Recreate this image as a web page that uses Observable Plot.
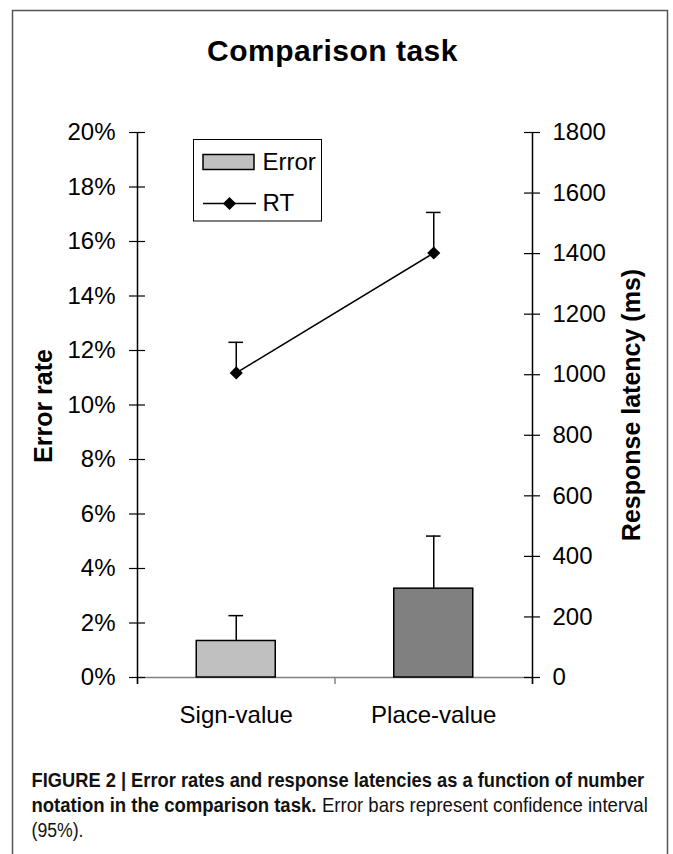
<!DOCTYPE html>
<html>
<head>
<meta charset="utf-8">
<script src="https://cdn.jsdelivr.net/npm/d3@7"></script>
<script src="https://cdn.jsdelivr.net/npm/@observablehq/plot@0.6"></script>
<style>
  html, body { margin: 0; padding: 0; background: #fff; }
  #wrap { position: relative; width: 673px; height: 854px; overflow: hidden; background: #fff; }
  #chart { position: absolute; left: 0; top: 0; }
  #overlay { position: absolute; left: 0; top: 0; pointer-events: none; }
</style>
</head>
<body>
<div id="wrap">
  <div id="chart"></div>
  <svg id="overlay" width="673" height="854" font-family="Liberation Sans, Arial, sans-serif"></svg>
</div>
<script>
// ---- data ----
const categories = ["Sign-value", "Place-value"];
const errorRate = [0.0134, 0.0326];      // bar heights (proportion)
const errorUpper = [0.0227, 0.0519];     // upper end of 95% CI
const rtValues = [1006, 1402];           // response latency (ms)
const rtUpper = [1107, 1536];            // upper end of 95% CI
const barColors = ["#C0C0C0", "#808080"];
const errorTicks = [0, 0.02, 0.04, 0.06, 0.08, 0.10, 0.12, 0.14, 0.16, 0.18, 0.20];
const rtTicks = [0, 200, 400, 600, 800, 1000, 1200, 1400, 1600, 1800];
const errorMax = 0.20;
const rtMax = 1800;
const titleText = "Comparison task";
const yLeftTitle = "Error rate";
const yRightTitle = "Response latency (ms)";
const legendLabels = ["Error", "RT"];
const captionBold1 = "FIGURE 2 | Error rates and response latencies as a function of number";
const captionBold2 = "notation in the comparison task.";
const captionReg2 = "Error bars represent confidence interval";
const captionReg3 = "(95%).";

// ---- layout ----
const W = 673, H = 740;
const mL = 137, mR = 141, mT = 132, mB = 63;
const plotW = W - mL - mR;
const tickHalf = 8;
const gap = 0.3;       // gap on each side of bar within category (Excel gap 150%)
const cap = 0.037;     // half width of error-bar caps in category units
const rtToY = v => v / rtMax * errorMax;
const idx = categories.map((d, i) => i);
const center = i => i + 0.5;
const font = "Liberation Sans, Arial, sans-serif";

const chart = Plot.plot({
  width: W, height: H,
  marginLeft: mL, marginRight: mR, marginTop: mT, marginBottom: mB,
  x: {domain: [0, categories.length]},
  y: {domain: [0, errorMax]},
  color: {type: "identity"},
  style: {fontFamily: font, fontSize: "24px", color: "black", background: "transparent", overflow: "visible"},
  marks: [
    // category axis: gray baseline and boundary ticks
    Plot.axisX(d3.range(categories.length + 1), {tickSize: 7, tickFormat: () => "", stroke: "#808080", strokeWidth: 1.5, label: null}),
    Plot.ruleY([0], {stroke: "#808080", strokeWidth: 1.5}),
    // category labels
    Plot.axisX(idx.map(center), {tickSize: 0, tickPadding: 28, tickFormat: d => categories[Math.floor(d)], fontSize: 24, label: null}),
    // left and right axis lines
    Plot.ruleX([0, categories.length], {stroke: "black", strokeWidth: 1.5, insetBottom: -7}),
    // left axis cross ticks + labels
    Plot.ruleY(errorTicks, {stroke: "black", strokeWidth: 1.2, insetLeft: -tickHalf, insetRight: plotW - tickHalf}),
    Plot.axisY(errorTicks, {anchor: "left", tickSize: 0, tickPadding: 22, tickFormat: d => Math.round(d * 100) + "%", fontSize: 24, label: null}),
    // right axis cross ticks + labels
    Plot.ruleY(rtTicks.map(rtToY), {stroke: "black", strokeWidth: 1.2, insetLeft: plotW - tickHalf, insetRight: -tickHalf}),
    Plot.axisY(rtTicks.map(rtToY), {anchor: "right", tickSize: 0, tickPadding: 20, tickFormat: d => String(Math.round(d / errorMax * rtMax)), fontSize: 24, label: null}),
    // error bars (bars)
    Plot.ruleX(idx, {x: center, y1: i => errorRate[i], y2: i => errorUpper[i], stroke: "black", strokeWidth: 1.5}),
    Plot.ruleY(idx, {y: i => errorUpper[i], x1: i => center(i) - cap, x2: i => center(i) + cap, stroke: "black", strokeWidth: 1.5}),
    // bars
    Plot.rect(idx, {x1: i => i + gap, x2: i => i + 1 - gap, y1: 0, y2: i => errorRate[i], fill: i => barColors[i], stroke: "black", strokeWidth: 1.5}),
    // RT error bars
    Plot.ruleX(idx, {x: center, y1: i => rtToY(rtValues[i]), y2: i => rtToY(rtUpper[i]), stroke: "black", strokeWidth: 1.5}),
    Plot.ruleY(idx, {y: i => rtToY(rtUpper[i]), x1: i => center(i) - cap, x2: i => center(i) + cap, stroke: "black", strokeWidth: 1.5}),
    // RT line + markers
    Plot.line(idx, {x: center, y: i => rtToY(rtValues[i]), stroke: "black", strokeWidth: 1.6}),
    Plot.dot(idx, {x: center, y: i => rtToY(rtValues[i]), symbol: "diamond2", r: 5.9, fill: "black", stroke: "none"})
  ]
});
document.getElementById("chart").appendChild(chart);

// ---- overlay: frame, titles, legend, caption ----
const ov = d3.select("#overlay");
ov.append("path").attr("d", "M12.5,870V10.5H667.5V870").attr("fill", "none").attr("stroke", "#555").attr("stroke-width", 1.5);

ov.append("text").attr("x", 332.5).attr("y", 61).attr("text-anchor", "middle")
  .attr("font-size", 30).attr("font-weight", "bold").attr("letter-spacing", 0.5).text(titleText);

ov.append("text").attr("transform", "translate(51.5,406) rotate(-90)").attr("text-anchor", "middle")
  .attr("font-size", 25).attr("font-weight", "bold").text(yLeftTitle);
ov.append("text").attr("transform", "translate(640,405) rotate(-90)").attr("text-anchor", "middle")
  .attr("font-size", 25).attr("font-weight", "bold").text(yRightTitle);

// legend
const lg = ov.append("g");
lg.append("rect").attr("x", 193.5).attr("y", 139.5).attr("width", 128).attr("height", 81.5)
  .attr("fill", "white").attr("stroke", "black").attr("stroke-width", 1);
lg.append("rect").attr("x", 203).attr("y", 154.5).attr("width", 51).attr("height", 15)
  .attr("fill", barColors[0]).attr("stroke", "black").attr("stroke-width", 1.5);
lg.append("text").attr("x", 262.5).attr("y", 169.5).attr("font-size", 24).text(legendLabels[0]);
lg.append("line").attr("x1", 203).attr("x2", 256).attr("y1", 203.5).attr("y2", 203.5)
  .attr("stroke", "black").attr("stroke-width", 1.6);
lg.append("path").attr("d", d3.symbol(d3.symbolDiamond2, Math.PI * 5.9 * 5.9)()).attr("transform", "translate(229.5,203.5)").attr("fill", "black");
lg.append("text").attr("x", 262.5).attr("y", 211).attr("font-size", 24).text(legendLabels[1]);

// caption: condensed by a horizontal scale fitted to the reference line widths
function captionText(str, x, y, targetW, bold) {
  const t = ov.append("text").attr("font-size", 20).attr("fill", "#111")
    .attr("font-weight", bold ? "bold" : "normal").text(str);
  const natural = t.node().getComputedTextLength() || targetW;
  const sx = targetW / natural;
  t.attr("transform", `translate(${x},${y}) scale(${sx},1)`);
  return t;
}
captionText(captionBold1, 31.5, 787, 613, true);
captionText(captionBold2, 31.5, 812, 285, true);
captionText(captionReg2, 322, 812, 326, false);
captionText(captionReg3, 31.5, 837, 52, false);
</script>
</body>
</html>
